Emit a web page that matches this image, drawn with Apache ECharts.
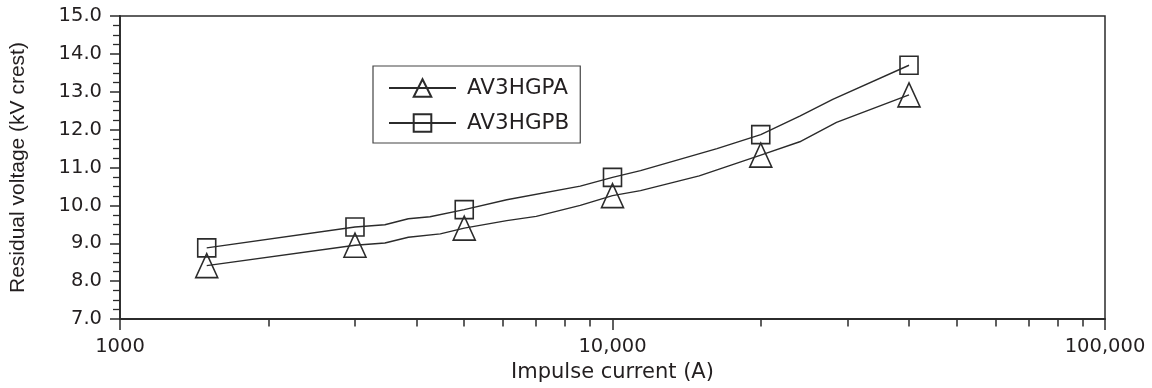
<!DOCTYPE html>
<html>
<head>
<meta charset="utf-8">
<script src="https://cdn.jsdelivr.net/npm/echarts@6/dist/echarts.min.js"></script>
<style>
html,body{margin:0;padding:0;background:#fff;}
#chart{width:1152px;height:388px;}
</style>
</head>
<body>
<div id="chart"></div>
<script>
// ---- data ----
const seriesNames = ['AV3HGPA', 'AV3HGPB'];
// test points (markers)
const markedCurrents = [1500, 3000, 5000, 10000, 20000, 40000];
// curve AV3HGPA (triangles)
const currentA = [1500, 3000, 3450, 3850, 4470, 5000, 6100, 7000, 8600, 10000, 11400, 15000, 20000, 24000, 28500, 40000];
const voltageA = [8.41, 8.95, 9.01, 9.16, 9.25, 9.40, 9.60, 9.71, 10.00, 10.26, 10.39, 10.78, 11.33, 11.68, 12.19, 12.92];
// curve AV3HGPB (squares)
const currentB = [1500, 3000, 3450, 3850, 4260, 5000, 6100, 8600, 10000, 11400, 16300, 20000, 24000, 28000, 40000];
const voltageB = [8.88, 9.43, 9.49, 9.65, 9.70, 9.89, 10.15, 10.51, 10.74, 10.92, 11.50, 11.87, 12.36, 12.80, 13.70];
// axis ticks
const xMajorTicks = [1000, 10000, 100000];
const xTickLabels = ['1000', '10,000', '100,000'];
const xMinorTicks = [2000, 3000, 4000, 5000, 6000, 7000, 8000, 9000, 20000, 30000, 40000, 50000, 60000, 70000, 80000, 90000];
const yMin = 7, yMax = 15, yStep = 1;
const xAxisTitle = 'Impulse current (A)';
const yAxisTitle = 'Residual voltage (kV crest)';

const INK = '#231f20';
const LINE = '#2b2b2b';

function buildData(xs, ys) {
  return xs.map((x, i) => markedCurrents.indexOf(x) >= 0
    ? { value: [x, ys[i]] }
    : { value: [x, ys[i]], symbol: 'none' });
}

const chart = echarts.init(document.getElementById('chart'), null, { renderer: 'canvas' });

const option = {
  animation: false,
  backgroundColor: '#ffffff',
  grid: {
    left: 120, right: 47, top: 16, bottom: 67,
    show: true, borderColor: LINE, borderWidth: 1.5, backgroundColor: 'transparent'
  },
  legend: {
    orient: 'vertical',
    left: 373, top: 66,
    padding: [11, 11, 9, 15],
    itemGap: 13,
    itemWidth: 67, itemHeight: 22,
    borderColor: '#444', borderWidth: 1.2,
    textStyle: { fontFamily: 'DejaVu Sans', fontSize: 21.5, color: INK, padding: [0, 0, 0, 6] },
    data: seriesNames
  },
  xAxis: [{
    type: 'log', logBase: 10, min: 1000, max: 100000,
    position: 'bottom',
    axisLine: { show: true, lineStyle: { color: LINE, width: 1.8 } },
    axisTick: { show: true, inside: false, length: 11, lineStyle: { color: LINE, width: 1.5 } },
    minorTick: { show: false },
    splitLine: { show: false },
    axisLabel: {
      margin: 18, fontFamily: 'DejaVu Sans', fontSize: 19.5, color: INK,
      formatter: v => { const i = xMajorTicks.indexOf(Math.round(v)); return i >= 0 ? xTickLabels[i] : ''; }
    },
    name: xAxisTitle, nameLocation: 'middle', nameGap: 42,
    nameTextStyle: { fontFamily: 'DejaVu Sans', fontSize: 21, color: INK }
  }, {
    type: 'log', logBase: 10, min: 1000, max: 100000,
    position: 'bottom',
    axisLine: { show: false },
    axisTick: { show: true, inside: false, length: 7.5, customValues: xMinorTicks, lineStyle: { color: LINE, width: 1.5 } },
    axisLabel: { show: false },
    splitLine: { show: false }
  }],
  yAxis: {
    type: 'value', min: yMin, max: yMax, interval: yStep,
    axisLine: { show: true, lineStyle: { color: LINE, width: 1.8 } },
    axisTick: { show: true, inside: false, length: 10, lineStyle: { color: LINE, width: 1.5 } },
    minorTick: { show: true, splitNumber: 4, length: 7, lineStyle: { color: LINE, width: 1.3 } },
    splitLine: { show: false },
    axisLabel: {
      margin: 18, fontFamily: 'DejaVu Sans', fontSize: 19.5, color: INK,
      formatter: v => v.toFixed(1)
    },
    name: yAxisTitle, nameLocation: 'middle', nameGap: 91,
    nameTextStyle: { fontFamily: 'Liberation Sans', fontSize: 21, color: INK }
  },
  series: [{
    name: seriesNames[0],
    type: 'line',
    xAxisIndex: 0,
    data: buildData(currentA, voltageA),
    smooth: false,
    symbol: 'triangle', symbolSize: [22, 24], showAllSymbol: true,
    lineStyle: { color: LINE, width: 1.4 },
    itemStyle: { color: 'rgba(255,255,255,0)', borderColor: LINE, borderWidth: 1.6 },
    z: 3
  }, {
    name: seriesNames[1],
    type: 'line',
    xAxisIndex: 0,
    data: buildData(currentB, voltageB),
    smooth: false,
    symbol: 'rect', symbolSize: 18, showAllSymbol: true,
    lineStyle: { color: LINE, width: 1.4 },
    itemStyle: { color: 'rgba(255,255,255,0)', borderColor: LINE, borderWidth: 1.6 },
    z: 3
  }]
};
chart.setOption(option);
</script>
</body>
</html>
